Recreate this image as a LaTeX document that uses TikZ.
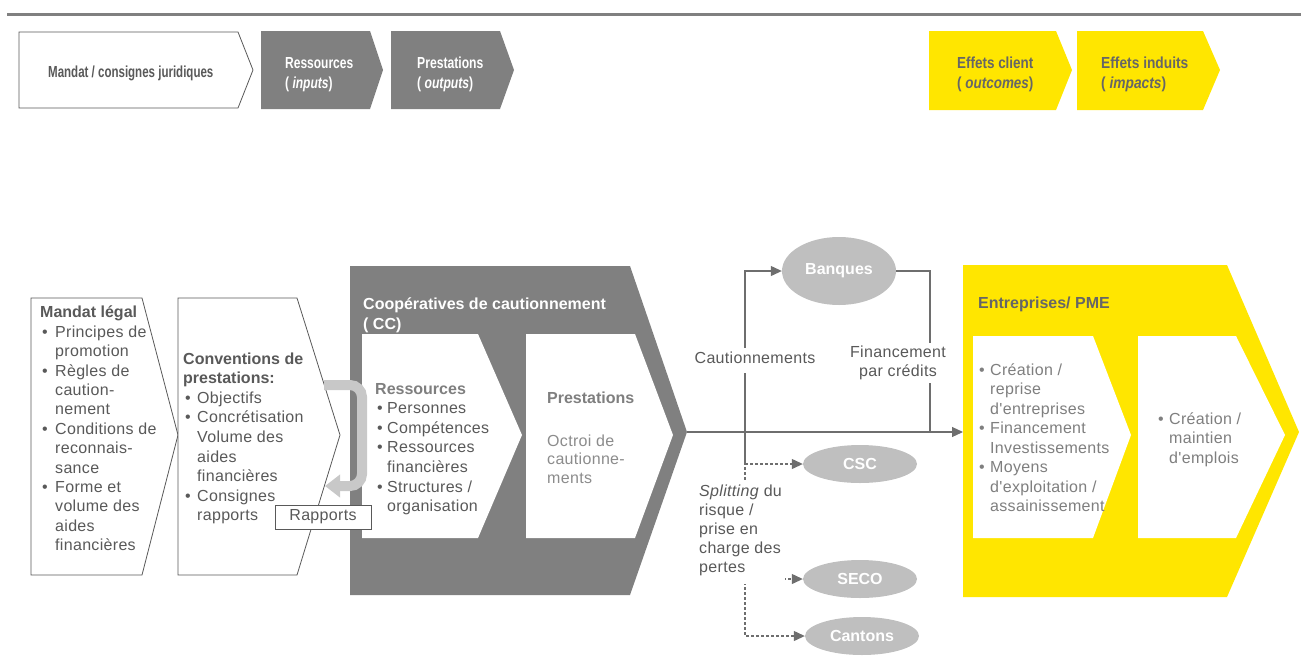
\documentclass[tikz,border=0pt]{standalone}
\usepackage{fontspec}
\setmainfont{Liberation Sans}
\newfontfamily\bodyfont{Liberation Sans}[LetterSpace=2]
\usepackage{graphicx}
\usetikzlibrary{arrows.meta,shapes.geometric}
\definecolor{dgrey}{HTML}{808080}
\definecolor{tgrey}{HTML}{595959}
\definecolor{mgrey}{HTML}{7F7F7F}
\definecolor{ogrey}{HTML}{8C8C8C}
\definecolor{ygrey}{HTML}{666666}
\definecolor{lgrey}{HTML}{BFBFBF}
\definecolor{loopgrey}{HTML}{C8C8C8}
\definecolor{cgrey}{HTML}{6E6E6E}
\definecolor{ylw}{HTML}{FFE600}
\newcommand\bli[1]{\makebox[#1][l]{\hspace{2pt}\textbullet}}
\newcommand\bin[1]{\hspace*{#1}}
\newcommand\hd[1]{{\normalfont\bfseries #1}}
\begin{document}
\begin{tikzpicture}[x=1pt,y=-1pt,
 body/.style={font=\bodyfont\fontsize{16}{19.5}\selectfont, text=tgrey, align=left, inner sep=0pt, anchor=north west},
 toptxt/.style={font=\fontsize{16}{20}\selectfont\bfseries, inner sep=0pt, align=left, anchor=north west},
 ell/.style={ellipse, fill=lgrey, inner sep=0pt, minimum width=114pt, minimum height=38pt, text=white, font=\fontsize{16}{19}\selectfont\bfseries},
 con/.style={draw=cgrey, line width=1.2pt},
 tip/.style={-{Triangle[length=11pt,width=10pt]}},
 dsh/.style={con, dash pattern=on 3pt off 2pt},
 lbl/.style={font=\bodyfont\fontsize{16}{19}\selectfont, text=tgrey, fill=white, inner sep=3pt, align=center},
 outl/.style={draw=tgrey, line width=0.8pt, fill=white}
]
\useasboundingbox (0,0) rectangle (1301,665);
\draw[dgrey, line width=2.5pt] (7,14.5) -- (1301,14.5);

% top chevrons
\draw[outl] (19,32) -- (238,32) -- (253,70) -- (238,108) -- (19,108) -- cycle;
\fill[dgrey] (261,31) -- (370,31) -- (383,70) -- (370,109) -- (261,109) -- cycle;
\fill[dgrey] (391,31) -- (500,31) -- (514,70) -- (500,109) -- (391,109) -- cycle;
\fill[ylw] (929,31) -- (1056,31) -- (1072,70) -- (1056,110) -- (929,110) -- cycle;
\fill[ylw] (1077,31) -- (1203,31) -- (1220,70) -- (1203,110) -- (1077,110) -- cycle;

\node[toptxt, anchor=base west, text=tgrey] (tmandat) at (48,77.3) {\scalebox{0.72}[1]{Mandat / consignes juridiques}};
\node[toptxt, text=white] (tres) at (285,54) {\strut\scalebox{0.75}[1]{Ressources}\\\scalebox{0.75}[1]{( \textit{inputs})}};
\node[toptxt, text=white] (tpres) at (417,54) {\strut\scalebox{0.76}[1]{Prestations}\\\scalebox{0.76}[1]{( \textit{outputs})}};
\node[toptxt, text=ygrey] (tout) at (957,54) {\strut\scalebox{0.84}[1]{Effets client}\\\scalebox{0.84}[1]{( \textit{outcomes})}};
\node[toptxt, text=ygrey] (timp) at (1101,54) {\strut\scalebox{0.86}[1]{Effets induits}\\\scalebox{0.86}[1]{( \textit{impacts})}};

% bottom left chevrons
\draw[outl] (31,298) -- (142,298) -- (178,435) -- (142,575) -- (31,575) -- cycle;
\draw[outl] (178,298) -- (297,298) -- (340,435) -- (297,575) -- (178,575) -- cycle;

% CC block
\fill[dgrey] (350,266) -- (630,266) -- (687,432) -- (630,595) -- (350,595) -- cycle;
\fill[white] (362,334) -- (478,334) -- (522,435) -- (478,538) -- (362,538) -- cycle;
\fill[white] (526,334) -- (635,334) -- (673,435) -- (635,538) -- (526,538) -- cycle;

% yellow block
\fill[ylw] (963,265) -- (1227,265) -- (1299,432) -- (1227,597) -- (963,597) -- cycle;
\fill[white] (973,336) -- (1093,336) -- (1131,435) -- (1093,538) -- (973,538) -- cycle;
\fill[white] (1138,336) -- (1236,336) -- (1285,435) -- (1236,538) -- (1138,538) -- cycle;

% loop arrow
\draw[loopgrey, line width=10pt, rounded corners=12pt, -{Triangle[length=15pt,width=22pt]}] (324,385) -- (362,385) -- (362,486) -- (325,486);

\node[draw=tgrey, line width=0.8pt, fill=white, minimum width=96pt, minimum height=24pt, inner sep=0pt, font=\bodyfont\fontsize{16}{19.5}\selectfont, text=tgrey] (rapports) at (323,517) {Rapports};

% texts
\node[body, font=\bodyfont\fontsize{16}{19.4}\selectfont] (mlegal) at (40,304.2) {\strut\hd{Mandat légal}\\
\bli{15pt}Principes de\\
\bin{15pt}promotion\\
\bli{15pt}Règles de\\
\bin{15pt}caution-\\
\bin{15pt}nement\\
\bli{15pt}Conditions de\\
\bin{15pt}reconnais-\\
\bin{15pt}sance\\
\bli{15pt}Forme et\\
\bin{15pt}volume des\\
\bin{15pt}aides\\
\bin{15pt}financières};

\node[body, font=\bodyfont\fontsize{16}{19.6}\selectfont] (conv) at (183,350.1) {\strut\hd{Conventions de}\\
\hd{prestations:}\\
\bli{14pt}Objectifs\\
\bli{14pt}Concrétisation\\
\bin{14pt}Volume des\\
\bin{14pt}aides\\
\bin{14pt}financières\\
\bli{14pt}Consignes\\
\bin{14pt}rapports};

\node[toptxt, text=white, font=\fontsize{16}{20}\selectfont\bfseries] (cctitle) at (363,294.8) {\strut Coopératives de cautionnement\\( CC)};

\node[body, font=\bodyfont\fontsize{16}{19.6}\selectfont] (ccres) at (375,380.1) {\strut\hd{\color{mgrey}Ressources}\\
\bli{12pt}Personnes\\
\bli{12pt}Compétences\\
\bli{12pt}Ressources\\
\bin{12pt}financières\\
\bli{12pt}Structures /\\
\bin{12pt}organisation};

\node[toptxt, anchor=base west, text=mgrey] (ccpres) at (547,403.8) {Prestations};
\node[body, text=ogrey, font=\bodyfont\fontsize{16}{18.5}\selectfont] (octroi) at (547,433) {\strut Octroi de\\cautionne-\\ments};

\node[toptxt, anchor=base west, text=ygrey] (entr) at (978,308.8) {Entreprises/ PME};
\node[body, text=mgrey] (eff1) at (977,361.2) {\strut\bli{13pt}Création /\\
\bin{13pt}reprise\\
\bin{13pt}d'entreprises\\
\bli{13pt}Financement\\
\bin{13pt}Investissements\\
\bli{13pt}Moyens\\
\bin{13pt}d'exploitation /\\
\bin{13pt}assainissement};
\node[body, text=mgrey] (eff2) at (1156,410.2) {\strut\bli{13pt}Création /\\
\bin{13pt}maintien\\
\bin{13pt}d'emplois};

% ellipses
\node[ell, minimum height=68pt] (banques) at (839,271) {Banques};
\node[ell] (csc) at (860,464) {CSC};
\node[ell] (seco) at (860,579) {SECO};
\node[ell] (cantons) at (862,636) {Cantons};

\coordinate (cctip) at (687,432);
\coordinate (jn) at (745,432);
\coordinate (fin) at (930,432);
\coordinate (ywest) at (963,432);

\draw[dsh, tip] (cctip) -- (jn) |- (csc.west);
\draw[dsh, tip] (jn) |- (seco.west);
\draw[dsh, tip] (jn) |- (cantons.west);
\draw[con, tip] (cctip) -- (ywest);
\draw[con, tip] (jn) |- (banques.west);
\draw[con] (banques.east) -| (fin);

\node[lbl] (caut) at (755,360) {\strut Cautionnements};
\node[lbl] (fincred) at (898,363) {Financement\\par crédits};
\node[lbl, align=left, anchor=north west] (split) at (696,480.4) {\strut\textit{Splitting} du\\risque /\\prise en\\charge des\\pertes\rule[-8pt]{0pt}{1pt}};
\end{tikzpicture}
\end{document}
